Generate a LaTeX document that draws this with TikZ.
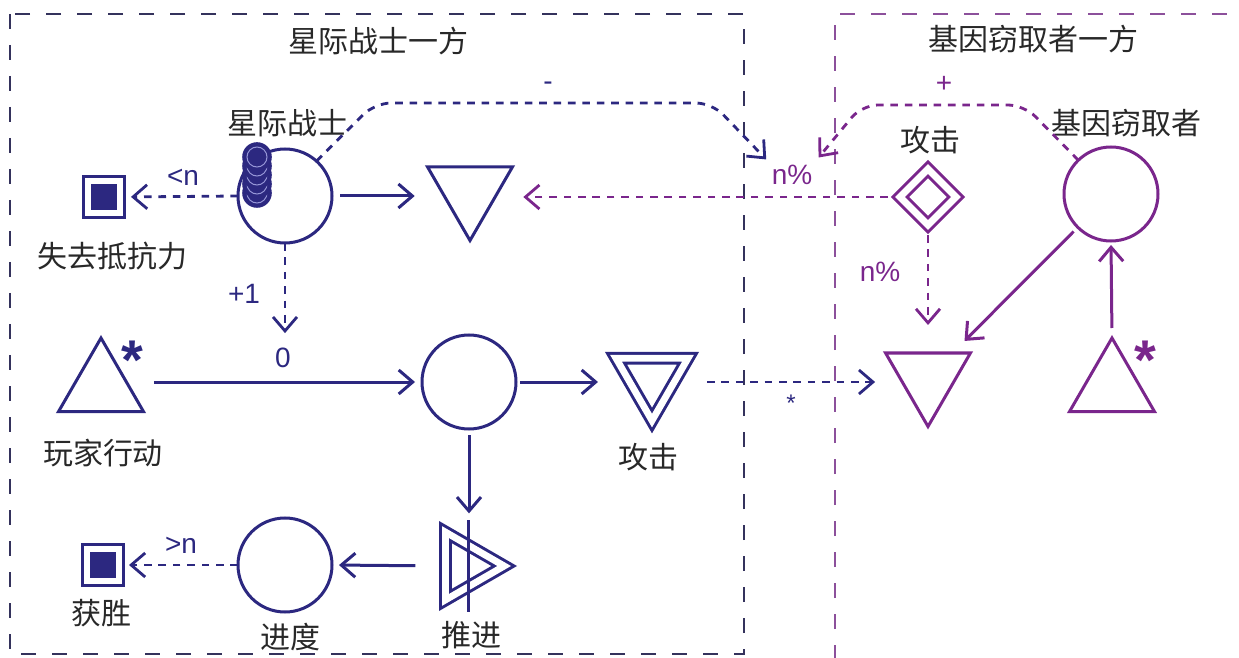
\documentclass[tikz,border=0pt]{standalone}
\usepackage{fontspec}
\setmainfont{Liberation Sans}
\newfontfamily\cjk{Noto Sans CJK SC}
\usepackage{xcolor}
\definecolor{mnavy}{RGB}{44, 40, 128}
\definecolor{gpurple}{RGB}{122, 38, 140}
\definecolor{framenavy}{RGB}{52, 50, 92}
\definecolor{framepurple}{RGB}{140, 80, 155}
\definecolor{titlegray}{RGB}{40, 40, 40}
\definecolor{coinring}{RGB}{150, 150, 215}
\usetikzlibrary{arrows.meta, shapes.geometric}

\begin{document}
\begin{tikzpicture}[
    x=0.5pt, y=-0.5pt,
    every node/.style={inner sep=0pt, outer sep=0pt},
    pool/.style={circle, draw, line width=1.5pt, minimum size=47pt},
    tri/.style={regular polygon, regular polygon sides=3, draw,
                line width=1.5pt, minimum size=#1},
    dtri/.style={tri=#1, regular polygon rotate=180},
    rtri/.style={tri=#1, regular polygon rotate=-90},
    twin/.style={double=white, double distance=3.4pt},
    endbox/.style={rectangle, draw, fill, line width=1.5pt,
                   double=white, double distance=3pt, minimum size=16pt},
    cn/.style={font=\cjk\fontsize{15pt}{18pt}\selectfont, text=titlegray},
    lbl/.style={font=\fontsize{14pt}{16pt}\selectfont},
    smalllbl/.style={font=\fontsize{12pt}{14pt}\selectfont},
    star/.style={font=\bfseries\fontsize{28pt}{30pt}\selectfont},
    flow/.style={-{Straight Barb[length=7pt, width=12pt]}, line width=1.5pt},
    state/.style={flow, dash pattern=on 3.8pt off 3.4pt, line width=1.4pt},
    frame/.style={line width=1pt, dash pattern=on 7.5pt off 8pt}
  ]
  \useasboundingbox (0,0) rectangle (1239,658);

  % the two sides
  \draw[frame, framenavy] (10,14) rectangle (744,654);
  \draw[frame, framepurple] (835,660) -- (835,14) -- (1245,14);
  \node[cn] (mside) at (378,41) {星际战士一方};
  \node[cn] (gside) at (1033,39) {基因窃取者一方};

  % space marine side
  \node[pool, mnavy] (mpool) at (285,196) {};
  \node[cn] (mpooltxt) at (287,123) {星际战士};
  \foreach \cy in {193,184,175,166,157} {
    \fill[mnavy] (257,\cy) circle (7.4pt);
    \draw[coinring, line width=0.5pt] (257,\cy) circle (5pt);
  }
  \node[dtri=49pt, mnavy] (mdrain) at (470,191.5) {};
  \node[endbox, mnavy] (lose) at (104,197) {};
  \node[cn] (losetxt) at (113,256) {失去抵抗力};
  \node[lbl, mnavy] (lessn) at (183,177) {<n};
  \node[lbl, mnavy] (plusone) at (244,294) {+1};

  \node[tri=49pt, mnavy] (action) at (101,387) {};
  \node[star, mnavy] (actionstar) at (132,360) {*};
  \node[cn] (actiontxt) at (103,453) {玩家行动};
  \node[lbl, mnavy] (zero) at (283,358) {0};
  \node[pool, mnavy] (gate) at (469,382) {};
  \node[dtri=41.6pt, twin, mnavy] (attack) at (652,379) {};
  \node[cn] (attacktxt) at (648,457) {攻击};
  \node[smalllbl, mnavy] (hitstar) at (791,403) {*};

  \node[rtri=39.2pt, twin, mnavy] (push) at (465,566) {};
  \draw[mnavy, line width=1.5pt] ([xshift=1.5pt, yshift=23pt]push.center)
    -- ([xshift=1.5pt, yshift=-23pt]push.center);
  \node[cn] (pushtxt) at (471,635) {推进};
  \node[pool, mnavy] (progress) at (285,565) {};
  \node[cn] (progresstxt) at (290,637) {进度};
  \node[endbox, mnavy] (win) at (103,565) {};
  \node[cn] (wintxt) at (101,613) {获胜};
  \node[lbl, mnavy] (moren) at (181,545) {>n};
  \node[lbl, mnavy] (minus) at (548,86) {-};

  % genestealer side
  \node[pool, gpurple] (gpool) at (1111,194) {};
  \node[cn] (gpooltxt) at (1126,123) {基因窃取者};
  \node[diamond, draw, twin, line width=1.5pt, minimum size=28pt, gpurple]
    (gattack) at (928,197) {};
  \node[cn] (gattacktxt) at (930,140) {攻击};
  \node[dtri=49pt, gpurple] (gdrain) at (928,377.5) {};
  \node[tri=49pt, gpurple] (gsource) at (1112,387) {};
  \node[star, gpurple] (gstar) at (1145,360) {*};
  \node[lbl, gpurple] (pct) at (792,175) {n\%};
  \node[lbl, gpurple] (pcttwo) at (880,272) {n\%};
  \node[lbl, gpurple] (plus) at (944,84) {+};

  % connections
  \draw[flow, mnavy, shorten <=4pt, shorten >=13.5pt] (mpool.east) -- (mpool.east -| mdrain.west);
  \draw[state, mnavy, shorten >=5.5pt] (mpool.west) -- (lose.east);
  \draw[state, mnavy, shorten >=7.5pt] (mpool.south) -- (mpool.south |- zero.north);
  \draw[flow, mnavy, shorten <=12.3pt, shorten >=3.5pt] (gate.west -| action.east) -- (gate.west);
  \draw[flow, mnavy, shorten <=2pt, shorten >=15pt] (gate.east) -- (gate.east -| attack.west);
  \draw[state, mnavy, shorten <=15.5pt, shorten >=12.3pt] (gate.east -| attack.east) -- (gate.east -| gdrain.west);
  \draw[flow, mnavy, shorten <=3pt, shorten >=15pt] (gate.south) -- (gate.south |- push.north);
  \draw[flow, mnavy, shorten <=15pt, shorten >=3.5pt] (push.west) -- (progress.east);
  \draw[state, mnavy, shorten >=5pt] (progress.west) -- (win.east);

  \draw[flow, gpurple, shorten <=5pt, shorten >=2pt] (gsource.north) -- (gpool.south);
  \draw[flow, gpurple, shorten <=3pt, shorten >=8.5pt] (gpool) -- (gdrain.north east);
  \draw[state, gpurple, shorten <=5pt, shorten >=14pt] (gattack.south) -- (gdrain.north);
  \draw[state, gpurple, shorten <=6pt, shorten >=12.5pt] (gattack.west) -- (gattack.west -| mdrain.east);

  \draw[state, mnavy, rounded corners=8pt, shorten >=4pt]
    (mpool.48) -- (375,103) -- (712,103) -- (pct.north west);
  \draw[state, gpurple, rounded corners=8pt, shorten >=5pt]
    (gpool.134) -- (1024,105) -- (862,105) -- (pct.north east);
\end{tikzpicture}
\end{document}
